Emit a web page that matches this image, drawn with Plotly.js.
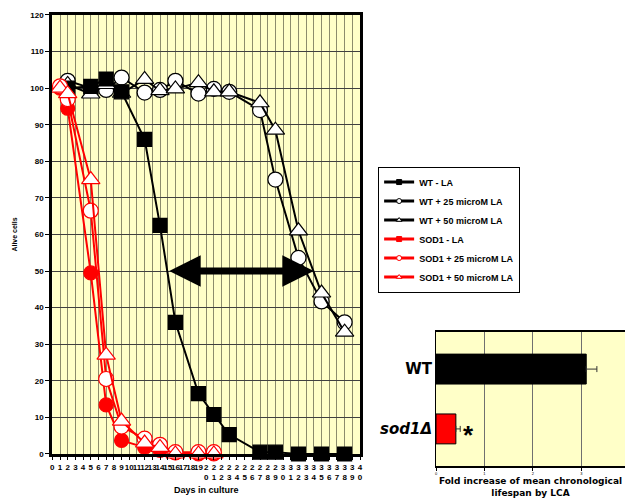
<!DOCTYPE html>
<html>
<head>
<meta charset="utf-8">
<script src="https://cdn.plot.ly/plotly-3.0.1.min.js"></script>
<style>
html,body{margin:0;padding:0;background:#fff;overflow:hidden;}
#chart{width:625px;height:499px;}
</style>
</head>
<body>
<div id="chart"></div>
<script>
// ---- Main chart data (days in culture vs % alive cells) ----
const daysSOD = [1, 2, 5, 7, 9, 12, 14, 16, 19, 21];
const sod1LA   = [100, 94.5, 49.5, 13.4, 3.7, 1.8, 1.0, 0.3, 0, 0];
const sod1LA25 = [100.5, 97, 66.5, 20.5, 7.5, 4.2, 2.5, 0.5, 0.5, 0.5];
const sod1LA50 = [100, 98.5, 75, 27, 9, 3, 1.8, 0, 0, 0];

const daysWT = [2, 5, 7, 9, 12, 14, 16, 19, 21, 23, 27, 29, 32, 35, 38];
const wtLA   = [100, 100.5, 102.5, 99, 86, 62.5, 36, 16.5, 10.8, 5.3, 0.5, 0.5, 0, 0, 0];
const wtLA25 = [102, 100, 99.5, 102.9, 98.8, 99.5, 102, 98.5, 99.8, 99, 94, 75, 53.6, 41.7, 36];
const wtLA50 = [101, 98.4, 101, 98.6, 102.4, 99.3, 99.8, 101.5, 99, 99, 96, 88.5, 61, 44, 33.3];

const xTickVals = [0,1,2,3,4,5,6,7,8,9,10,11,12,13,14,15,16,17,18,19,20,21,22,23,24,25,26,27,28,29,30,31,32,33,34,35,36,37,38,39,40];
const xTickText = ['0','1','2','3','4','5','6','7','8','9','10','11','12','13','14','15','16','17','18','19',
  '2<br>0','2<br>1','2<br>2','2<br>3','2<br>4','2<br>5','2<br>6','2<br>7','2<br>8','2<br>9',
  '3<br>0','3<br>1','3<br>2','3<br>3','3<br>4','3<br>5','3<br>6','3<br>7','3<br>8','3<br>9','4<br>0'];

const seriesNames = ['WT - LA', 'WT + 25 microM LA', 'WT + 50 microM LA',
                     'SOD1 - LA', 'SOD1 + 25 microM LA', 'SOD1 + 50 microM LA'];

// double arrow (lifespan extension) in data units
const arrowFromDay = 15, arrowToDay = 34, arrowLevel = 50;

// ---- Inset bar chart data ----
const strains = ['sod1Δ', 'WT'];
const strainLabels = ['<i>sod1Δ</i>', 'WT'];
const foldIncrease = [0.41, 3.1];
const foldError = [0.09, 0.22];
const insetTicks = [0, 1, 2, 3];

const BLACK = '#000000', RED = '#FF0000';

function mainTrace(x, y, color, symbol, fill, size) {
  return {
    type: 'scatter', mode: 'lines+markers', x: x, y: y, showlegend: false,
    cliponaxis: false, xaxis: 'x', yaxis: 'y',
    line: {color: color, width: 2},
    marker: {symbol: symbol, size: size, color: fill, line: {color: color, width: 1.2}}
  };
}
function legendTrace(name, color, symbol, fill) {
  return {
    type: 'scatter', mode: 'lines+markers', x: [null], y: [null], name: name,
    xaxis: 'x', yaxis: 'y',
    line: {color: color, width: 3},
    marker: {symbol: symbol, size: 5, color: fill, line: {color: color, width: 1}}
  };
}

const data = [
  mainTrace(daysWT, wtLA25, BLACK, 'circle', '#FFFFFF', 15),
  mainTrace(daysWT, wtLA50, BLACK, 'triangle-up', '#FFFFFF', 16),
  mainTrace(daysWT, wtLA, BLACK, 'square', BLACK, 14),
  mainTrace(daysSOD, sod1LA, RED, 'circle', RED, 14),
  mainTrace(daysSOD, sod1LA25, RED, 'circle', '#FFFFFF', 15),
  mainTrace(daysSOD, sod1LA50, RED, 'triangle-up', '#FFFFFF', 16),
  legendTrace(seriesNames[0], BLACK, 'square', BLACK),
  legendTrace(seriesNames[1], BLACK, 'circle', '#FFFFFF'),
  legendTrace(seriesNames[2], BLACK, 'triangle-up', '#FFFFFF'),
  legendTrace(seriesNames[3], RED, 'square', RED),
  legendTrace(seriesNames[4], RED, 'circle', '#FFFFFF'),
  legendTrace(seriesNames[5], RED, 'triangle-up', '#FFFFFF'),
  {
    type: 'bar', orientation: 'h', x: foldIncrease, y: strains,
    xaxis: 'x2', yaxis: 'y2', showlegend: false, width: 0.5,
    marker: {color: [RED, BLACK], line: {color: BLACK, width: 1}},
    error_x: {type: 'data', array: foldError, arrayminus: [0, 0], symmetric: false,
              color: '#333333', thickness: 1, width: 3}
  }
];

const layout = {
  width: 625, height: 499,
  margin: {l: 0, r: 0, t: 0, b: 0},
  paper_bgcolor: '#FFFFFF', plot_bgcolor: '#FFFFC8',
  font: {family: 'Arial, "Liberation Sans", sans-serif', color: '#000'},
  xaxis: {
    domain: [0.0837, 0.576], anchor: 'y', range: [0, 40],
    tickmode: 'array', tickvals: xTickVals, ticktext: xTickText, tickangle: 0,
    tickfont: {size: 8, weight: 'bold'}, ticks: 'outside', ticklen: 3, tickcolor: '#000',
    showgrid: true, gridcolor: '#8c8c6c', gridwidth: 1,
    showline: true, linecolor: '#000', linewidth: 3, mirror: true, zeroline: false,
    title: {text: 'Days in culture', font: {size: 9, weight: 'bold'}, standoff: 6}
  },
  yaxis: {
    domain: [0.0902, 0.970], anchor: 'x', range: [0, 120], dtick: 10,
    tickfont: {size: 8, weight: 'bold'}, ticks: 'outside', ticklen: 4, tickcolor: '#000',
    showgrid: true, gridcolor: '#404040', gridwidth: 1,
    showline: true, linecolor: '#000', linewidth: 3, mirror: true, zeroline: false,
    title: {text: 'Alive cells', font: {size: 7, weight: 'bold'}, standoff: 12}
  },
  xaxis2: {
    domain: [0.6976, 1], anchor: 'y2', range: [0, 3.9],
    tickmode: 'array', tickvals: insetTicks, ticktext: insetTicks.map(String),
    tickfont: {size: 4}, ticks: 'outside', ticklen: 3, tickcolor: '#000',
    showgrid: true, gridcolor: '#707070', gridwidth: 1,
    showline: true, linecolor: '#000', linewidth: 1.5, mirror: true, zeroline: false,
    title: {text: 'Fold increase of mean chronological<br>lifespan by LCA',
            font: {family: '"DejaVu Sans", sans-serif', size: 9, weight: 'bold'}, standoff: 2}
  },
  yaxis2: {
    domain: [0.0661, 0.3347], anchor: 'x2', type: 'category',
    categoryorder: 'array', categoryarray: strains, range: [-0.62, 1.62],
    tickmode: 'array', tickvals: strains, ticktext: strainLabels,
    tickfont: {family: '"DejaVu Sans", sans-serif', size: 15, weight: 'bold'},
    ticks: '', showgrid: false, showline: true, linecolor: '#000', linewidth: 1, zeroline: false
  },
  legend: {
    x: 0.605, y: 0.54, xanchor: 'left', yanchor: 'middle',
    bgcolor: '#FFFFFF', bordercolor: '#000', borderwidth: 1,
    font: {size: 9, weight: 'bold'}, itemwidth: 30, tracegroupgap: 0
  },
  annotations: [
    {
      xref: 'x', yref: 'y', axref: 'x', ayref: 'y',
      x: arrowToDay, y: arrowLevel, ax: arrowFromDay, ay: arrowLevel,
      text: '', showarrow: true, arrowside: 'end+start',
      arrowhead: 2, startarrowhead: 2, arrowsize: 0.9, startarrowsize: 0.9,
      arrowwidth: 7, arrowcolor: '#000'
    },
    {
      xref: 'x2', yref: 'y2', x: 0.68, y: strains[0], text: '*', showarrow: false,
      font: {size: 26, weight: 'bold'}, yshift: -6
    }
  ]
};

Plotly.newPlot('chart', data, layout, {displayModeBar: false, staticPlot: true});
</script>
</body>
</html>
